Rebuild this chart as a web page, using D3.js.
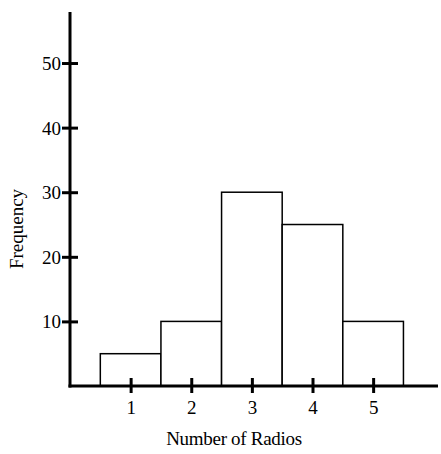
<!DOCTYPE html>
<html>
<head>
<meta charset="utf-8">
<script src="https://cdn.jsdelivr.net/npm/d3@7"></script>
<style>
  body { margin: 0; background: #fff; }
  text { font-family: "Liberation Serif", "DejaVu Serif", serif; fill: #000; }
</style>
</head>
<body>
<div id="chart"></div>
<script>
var radios = [1, 2, 3, 4, 5];
var frequency = [5, 10, 30, 25, 10];
var yTicks = [10, 20, 30, 40, 50];

var width = 441;
var height = 454;
var originX = 70;
var originY = 386;

var svg = d3.select('#chart')
    .append('svg')
    .attr('width', width)
    .attr('height', height);

var x = d3.scaleLinear()
    .domain([0, 6.07])
    .range([originX, 438]);

var y = d3.scaleLinear()
    .domain([0, 57.9])
    .range([originY, 12]);

// bars, each one unit wide centred on its value
svg.selectAll('.bar')
    .data(frequency)
    .enter()
    .append('rect')
    .attr('class', 'bar')
    .attr('x', function(d, i) { return x(radios[i] - 0.5); })
    .attr('y', function(d) { return y(d); })
    .attr('width', function(d, i) { return x(radios[i] + 0.5) - x(radios[i] - 0.5); })
    .attr('height', function(d) { return y(0) - y(d); })
    .attr('fill', '#fff')
    .attr('stroke', '#000')
    .attr('stroke-width', 1.5);

// y axis
var yAxis = svg.append('g')
    .attr('transform', 'translate(' + originX + ',0)')
    .call(d3.axisLeft(y).tickValues(yTicks).tickFormat(d3.format('d')).tickSize(0).tickSizeOuter(0));
yAxis.select('.domain').remove();
yAxis.append('line')
    .attr('x1', 0).attr('x2', 0)
    .attr('y1', y.range()[1]).attr('y2', originY + 1.5)
    .attr('stroke', '#000').attr('stroke-width', 3);
yAxis.selectAll('.tick line').remove();
yAxis.selectAll('.tick').append('line')
    .attr('x1', -8).attr('x2', 8)
    .attr('stroke', '#000').attr('stroke-width', 3);
yAxis.selectAll('.tick text')
    .attr('x', -9)
    .attr('dy', '0.34em')
    .style('font-size', '19px');

// x axis
var xAxis = svg.append('g')
    .attr('transform', 'translate(0,' + originY + ')')
    .call(d3.axisBottom(x).tickValues(radios).tickFormat(d3.format('d')).tickSize(0).tickSizeOuter(0));
xAxis.select('.domain').remove();
xAxis.append('line')
    .attr('x1', originX - 1.5).attr('x2', x.range()[1])
    .attr('y1', 0).attr('y2', 0)
    .attr('stroke', '#000').attr('stroke-width', 3);
xAxis.selectAll('.tick line').remove();
xAxis.selectAll('.tick').append('line')
    .attr('y1', -8).attr('y2', 7)
    .attr('stroke', '#000').attr('stroke-width', 3);
xAxis.selectAll('.tick text')
    .attr('y', 28)
    .attr('dy', 0)
    .style('font-size', '19px');

svg.selectAll('.tick text').attr('fill', '#000');

// axis titles
svg.append('text')
    .attr('x', 234)
    .attr('y', 445)
    .attr('text-anchor', 'middle')
    .style('font-size', '19px')
    .style('letter-spacing', '-0.3px')
    .text('Number of Radios');

svg.append('text')
    .attr('transform', 'translate(23,229) rotate(-90)')
    .attr('text-anchor', 'middle')
    .style('font-size', '19px')
    .text('Frequency');
</script>
</body>
</html>
